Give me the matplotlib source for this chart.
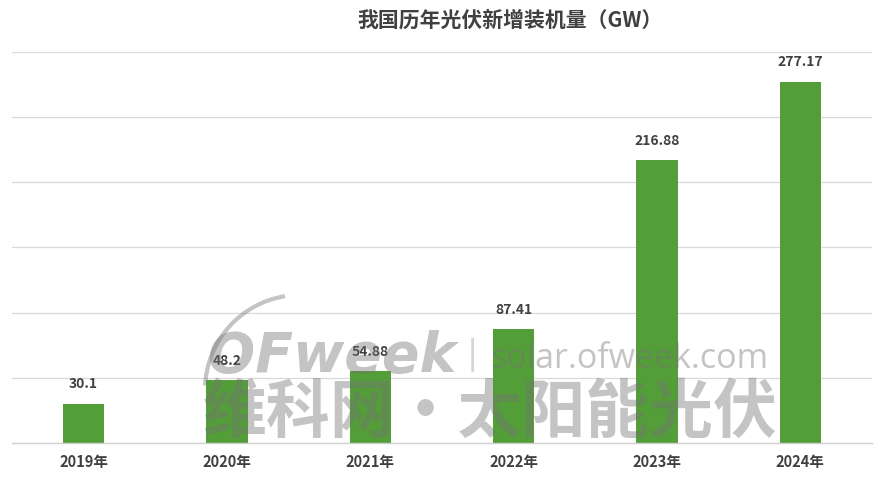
import matplotlib
matplotlib.use("Agg")
import matplotlib.pyplot as plt
from matplotlib.patches import Arc

categories = ["2019年", "2020年", "2021年", "2022年", "2023年", "2024年"]
values = [30.1, 48.2, 54.88, 87.41, 216.88, 277.17]
value_labels = ["30.1", "48.2", "54.88", "87.41", "216.88", "277.17"]
title = "我国历年光伏新增装机量（GW）"

W, H = 885, 482
fig = plt.figure(figsize=(W / 100, H / 100), dpi=100)
fig.patch.set_facecolor("white")
ax = fig.add_axes([12 / W, 39 / H, 860 / W, (443 - 52) / H])

cjk = ["Noto Sans CJK SC", "DejaVu Sans"]
txt_color = "#404040"
bar_color = "#549E39"

x = list(range(len(categories)))
ax.bar(x, values, width=0.29, color=bar_color, zorder=2)
ax.set_xlim(-0.5, len(categories) - 0.5)
ax.set_ylim(0, 300)
ax.set_yticks([50, 100, 150, 200, 250, 300])
ax.yaxis.grid(True, color="#d9d9d9", linewidth=0.9, zorder=0)
ax.set_axisbelow(True)
ax.tick_params(axis="y", length=0, labelleft=False)
ax.tick_params(axis="x", length=0, pad=8)
ax.set_xticks(x)
ax.set_xticklabels(categories, fontfamily=cjk, fontsize=10.5, fontweight="bold", color=txt_color)
for s in ["left", "right", "top"]:
    ax.spines[s].set_visible(False)
ax.spines["bottom"].set_color("#d0d0d0")
ax.spines["bottom"].set_linewidth(1.0)

for xi, v, lab in zip(x, values, value_labels):
    ax.annotate(lab, (xi, v), xytext=(0, 9), textcoords="offset points",
                ha="center", va="bottom", fontsize=10, fontweight="bold",
                fontfamily=cjk, color=txt_color, zorder=3)

fig.text(510 / W, 1 - 20 / H, title, ha="center", va="center", fontsize=15,
         fontweight="bold", fontfamily=cjk, color=txt_color)

# watermark
wm = (0.45, 0.45, 0.45)
wa = 0.42
fig.text(208 / W, 1 - 372 / H, "OFweek", ha="left", va="baseline", fontsize=40,
         fontweight="bold", fontstyle="italic", fontfamily="DejaVu Sans",
         color=wm, alpha=wa, zorder=10)
fig.text(472 / W, 1 - 355 / H, "|", ha="center", va="center", fontsize=24,
         fontfamily="DejaVu Sans", color=wm, alpha=wa * 0.7, zorder=10)
fig.text(490 / W, 1 - 368 / H, "solar.ofweek.com", ha="left", va="baseline", fontsize=24.5,
         fontfamily="Open Sans", color=wm, alpha=wa, zorder=10)
fig.text(490 / W, 1 - 413 / H, "维科网·太阳能光伏", ha="center", va="center", fontsize=46,
         fontweight="bold", fontfamily=cjk, color=wm, alpha=wa, zorder=10)
arc = Arc((300 / W, 1 - 390 / H), 190 / W, 190 / H, theta1=95, theta2=175,
          transform=fig.transFigure, color=wm, alpha=wa, linewidth=3, zorder=10)
fig.add_artist(arc)

fig.savefig("out.png", dpi=100)
